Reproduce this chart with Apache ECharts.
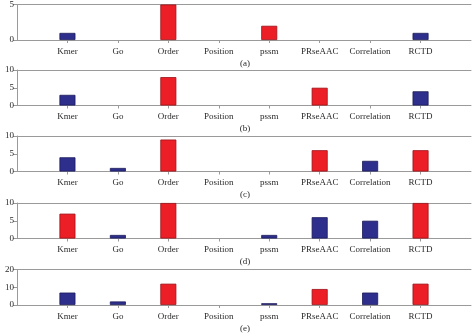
<!DOCTYPE html>
<html>
<head>
<meta charset="utf-8">
<script src="https://cdn.jsdelivr.net/npm/echarts@6/dist/echarts.min.js"></script>
<style>
  html, body { margin: 0; padding: 0; background: #fff; }
  #chart { width: 474px; height: 334px; }
</style>
</head>
<body>
<div id="chart"></div>
<script>
// Feature groups shown along every panel's x axis
const categories = ['Kmer', 'Go', 'Order', 'Position', 'pssm', 'PRseAAC', 'Correlation', 'RCTD'];

// Panel captions
const panelNames = ['(a)', '(b)', '(c)', '(d)', '(e)'];

// Counts per panel, split into the blue and red groups (null = no bar)
const blueA = [1, null, null, null, null, null, null, 1];
const redA  = [null, null, 5, null, 2, null, null, null];

const blueB = [3, null, null, null, null, null, null, 4];
const redB  = [null, null, 8, null, null, 5, null, null];

const blueC = [4, 1, null, null, null, null, 3, null];
const redC  = [null, null, 9, null, null, 6, null, 6];

const blueD = [null, 1, null, null, 1, 6, 5, null];
const redD  = [7, null, 10, null, null, null, null, 10];

const blueE = [7, 2, null, null, 1, null, 7, null];
const redE  = [null, null, 12, null, null, 9, null, 12];

// Y axis ranges (max and tick step) per panel
const yMax = [5, 10, 10, 10, 20];
const yStep = [5, 5, 5, 5, 10];

const blueSets = [blueA, blueB, blueC, blueD, blueE];
const redSets = [redA, redB, redC, redD, redE];

const FONT = 'Liberation Serif';
const AXIS = '#9a9a9a';
const TEXT = '#2a2a2a';
const BLUE = '#2e2e8c';
const RED = '#ec1f27';

const gridTops = [4.5, 70, 136, 203, 269.5];
const gridH = 35.5;

// Blank slots at both ends give the half-empty margins on each side
const axisCats = [''].concat(categories, ['']);
const pad = arr => [null].concat(arr, [null]);

const grid = [], xAxis = [], yAxis = [], series = [], title = [];

gridTops.forEach((top, i) => {
  grid.push({ left: 17, right: 0, top: top, height: gridH, containLabel: false });

  // bottom axis with category labels
  xAxis.push({
    type: 'category', gridIndex: i, data: axisCats, boundaryGap: false,
    axisLine: { lineStyle: { color: AXIS, width: 1 } },
    axisTick: {
      length: 3, lineStyle: { color: AXIS },
      interval: (idx) => idx > 0 && idx < axisCats.length - 1
    },
    axisLabel: { color: TEXT, fontFamily: FONT, fontSize: 9, margin: 7, interval: 0 },
    splitLine: { show: false }
  });
  // top frame line
  xAxis.push({
    type: 'category', gridIndex: i, data: axisCats, boundaryGap: false, position: 'top',
    axisLine: { lineStyle: { color: AXIS, width: 1 } },
    axisTick: { show: false }, axisLabel: { show: false }, splitLine: { show: false }
  });

  yAxis.push({
    type: 'value', gridIndex: i, min: 0, max: yMax[i], interval: yStep[i],
    axisLine: { show: true, lineStyle: { color: AXIS } },
    axisTick: { show: true, length: 4, lineStyle: { color: AXIS } },
    axisLabel: { color: TEXT, fontFamily: FONT, fontSize: 9, margin: 3 },
    splitLine: { show: false }
  });

  const barStyle = (fill, edge) => ({ color: fill, borderColor: edge, borderWidth: 0.8 });

  series.push({
    type: 'bar', xAxisIndex: i * 2, yAxisIndex: i, stack: 'p' + i,
    data: pad(blueSets[i]), barWidth: 16,
    itemStyle: barStyle(BLUE, '#1c1c5a'), emphasis: { disabled: true }
  });
  series.push({
    type: 'bar', xAxisIndex: i * 2, yAxisIndex: i, stack: 'p' + i,
    data: pad(redSets[i]), barWidth: 16,
    itemStyle: barStyle(RED, '#9c1218'), emphasis: { disabled: true }
  });

  title.push({
    text: panelNames[i], left: 245, top: top + gridH + 19, padding: 0,
    textAlign: 'center',
    textStyle: { fontFamily: FONT, fontSize: 9, fontWeight: 'normal', color: TEXT }
  });
});

const chart = echarts.init(document.getElementById('chart'), null, { renderer: 'canvas' });
chart.setOption({
  animation: false,
  backgroundColor: '#fff',
  title: title,
  grid: grid,
  xAxis: xAxis,
  yAxis: yAxis,
  series: series
});
</script>
</body>
</html>
